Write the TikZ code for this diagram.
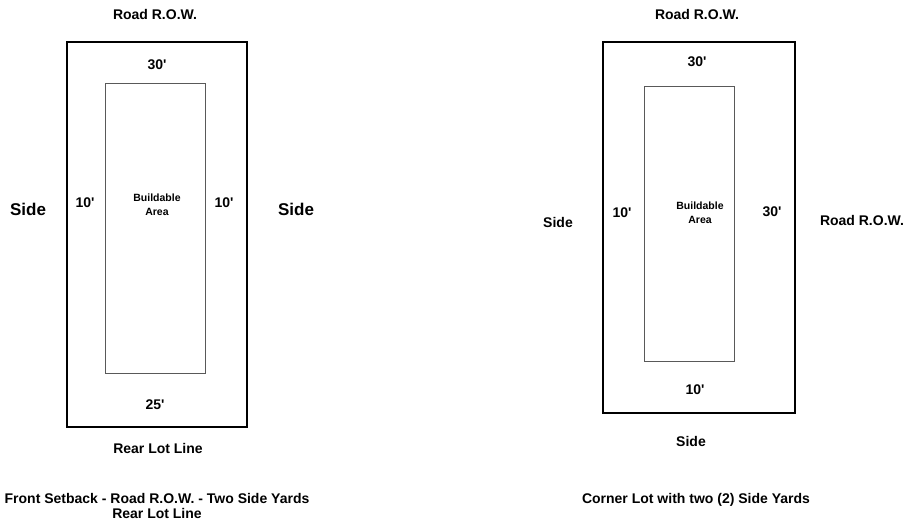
\documentclass[tikz,border=0pt]{standalone}
\usepackage{fontspec}
\setmainfont{Liberation Sans}
\newcommand{\ft}{\textquotesingle}
\tikzset{
	lbl/.style={font=\bfseries\fontsize{14}{15}\selectfont, inner sep=0pt},
	sidelbl/.style={font=\bfseries\fontsize{17}{19}\selectfont, inner sep=0pt},
	inlbl/.style={font=\bfseries\fontsize{10.5}{14}\selectfont, inner sep=0pt, align=center},
	lot/.style={line width=2pt},
	buildable/.style={line width=1pt, draw=black!65}
}
\begin{document}
\begin{tikzpicture}[x=1pt,y=-1pt]
	\useasboundingbox (0,0) rectangle (907,521);
	% front setback, two side yards
	\draw[lot] (67,42) rectangle (247,427);
	\draw[buildable] (105,84) rectangle (205,373);
	\node[lbl] (frow) at (155,15) {Road R.O.W.};
	\node[lbl] (ftop) at (157,65) {30\ft};
	\node[sidelbl] (fsidel) at (28,209) {Side};
	\node[lbl] (fleft) at (85,203) {10\ft};
	\node[inlbl] (farea) at (157,205) {Buildable\\Area};
	\node[lbl] (fright) at (224,203) {10\ft};
	\node[sidelbl] (fsider) at (296,209) {Side};
	\node[lbl] (fbot) at (155,405) {25\ft};
	\node[lbl] (frear) at (158,448) {Rear Lot Line};
	\node[lbl, align=center] (fcap) at (157,506) {Front Setback - Road R.O.W. - Two Side Yards\\Rear Lot Line};
	% corner lot
	\draw[lot] (603,42) rectangle (795,413);
	\draw[buildable] (644,87) rectangle (734,361);
	\node[lbl] (crow) at (697,15) {Road R.O.W.};
	\node[lbl] (ctop) at (697,62) {30\ft};
	\node[lbl] (csidel) at (558,222) {Side};
	\node[lbl] (cleft) at (622,213) {10\ft};
	\node[inlbl] (carea) at (700,213) {Buildable\\Area};
	\node[lbl] (cright) at (772,212) {30\ft};
	\node[lbl] (crowr) at (862,220) {Road R.O.W.};
	\node[lbl] (cbot) at (695,390) {10\ft};
	\node[lbl] (cside) at (691,441) {Side};
	\node[lbl] (ccap) at (696,500) {Corner Lot with two (2) Side Yards};
\end{tikzpicture}
\end{document}
